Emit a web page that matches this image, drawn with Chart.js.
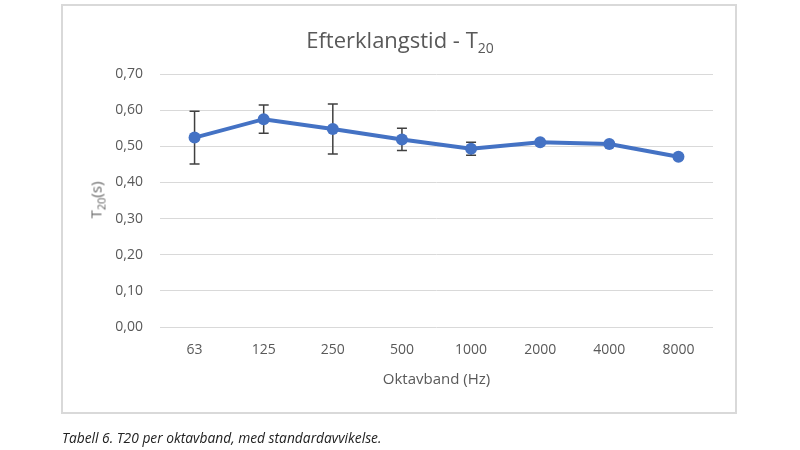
<!DOCTYPE html>
<html>
<head>
<meta charset="utf-8">
<script src="https://cdn.jsdelivr.net/npm/chart.js@4"></script>
<style>
    body { margin: 0; background: #fff; font-family: "Open Sans", sans-serif; }
    #wrap { position: relative; width: 800px; height: 450px; }
    #chart { position: absolute; left: 0; top: 0; }
    #frame { position: absolute; left: 61px; top: 4px; width: 672px; height: 406px; border: 2px solid #d9d9d9; }
    #title { position: absolute; left: 0; width: 800px; top: 24px; text-align: center; font-size: 22px; color: #595959; }
    #title sub { font-size: 14px; vertical-align: -5px; }
    #ytitle { position: absolute; left: 97px; top: 200px; transform: translate(-50%, -50%) rotate(-90deg); font-size: 15px; color: #666; white-space: nowrap; }
    #ytitle sub { font-size: 11px; vertical-align: -4px; }
    #caption { position: absolute; left: 62px; top: 428px; font-size: 13.8px; font-style: italic; color: #222; }
</style>
</head>
<body>
<div id="wrap">
    <div id="frame"></div>
    <canvas id="chart" width="800" height="450"></canvas>
    <div id="title">Efterklangstid - T<sub>20</sub></div>
    <div id="ytitle">T<sub>20</sub>(s)</div>
    <div id="caption">Tabell 6. T20 per oktavband, med standardavvikelse.</div>
</div>
<script>
// oktavband och uppmätta värden
const bands = ["63", "125", "250", "500", "1000", "2000", "4000", "8000"];
const t20 = [0.524, 0.575, 0.548, 0.519, 0.493, 0.511, 0.506, 0.471];
const stdDev = [0.073, 0.039, 0.069, 0.031, 0.018, 0.004, 0.004, 0.005];
const yTicks = [0, 0.1, 0.2, 0.3, 0.4, 0.5, 0.6, 0.7];

// ritar standardavvikelse som felstaplar (under linjen)
const errorBars = {
    id: "errorBars",
    beforeDatasetsDraw(chart) {
        const ctx = chart.ctx;
        const x = chart.scales.x;
        const y = chart.scales.y;
        ctx.save();
        ctx.strokeStyle = "#404040";
        ctx.lineWidth = 1.5;
        t20.forEach((v, i) => {
            const px = x.getPixelForValue(i);
            const top = y.getPixelForValue(v + stdDev[i]);
            const bot = y.getPixelForValue(v - stdDev[i]);
            ctx.beginPath();
            ctx.moveTo(px, top); ctx.lineTo(px, bot);
            ctx.moveTo(px - 5, top); ctx.lineTo(px + 5, top);
            ctx.moveTo(px - 5, bot); ctx.lineTo(px + 5, bot);
            ctx.stroke();
        });
        ctx.restore();
    }
};

const tickFont = { family: "'Open Sans', sans-serif", size: 14 };

new Chart(document.getElementById("chart"), {
    type: "line",
    data: {
        labels: bands,
        datasets: [{
            label: "T20",
            data: t20,
            borderColor: "#4472c4",
            backgroundColor: "#4472c4",
            borderWidth: 4,
            pointRadius: 6,
            pointBorderWidth: 0,
            pointHoverRadius: 6,
            tension: 0
        }]
    },
    options: {
        responsive: false,
        animation: false,
        layout: { padding: { left: 0, right: 87, top: 74, bottom: 0 } },
        plugins: {
            legend: { display: false },
            tooltip: { enabled: false }
        },
        scales: {
            x: {
                offset: true,
                grid: { display: false, drawTicks: false },
                border: { display: false },
                ticks: { color: "#595959", font: tickFont, padding: 15 },
                title: {
                    display: true,
                    text: "Oktavband (Hz)",
                    color: "#595959",
                    font: { family: "'Open Sans', sans-serif", size: 15 },
                    padding: { top: 0, bottom: 61 }
                },
                afterFit: (s) => { s.height = 123; }
            },
            y: {
                min: 0,
                max: 0.7,
                afterBuildTicks: (s) => { s.ticks = yTicks.map(v => ({ value: v })); },
                grid: { color: "#d9d9d9", lineWidth: 1, drawTicks: false },
                border: { display: false },
                ticks: {
                    color: "#595959",
                    font: tickFont,
                    padding: 17,
                    callback: (v) => v.toFixed(2).replace(".", ",")
                },
                afterFit: (s) => { s.width = 160; }
            }
        }
    },
    plugins: [errorBars]
});
</script>
</body>
</html>
